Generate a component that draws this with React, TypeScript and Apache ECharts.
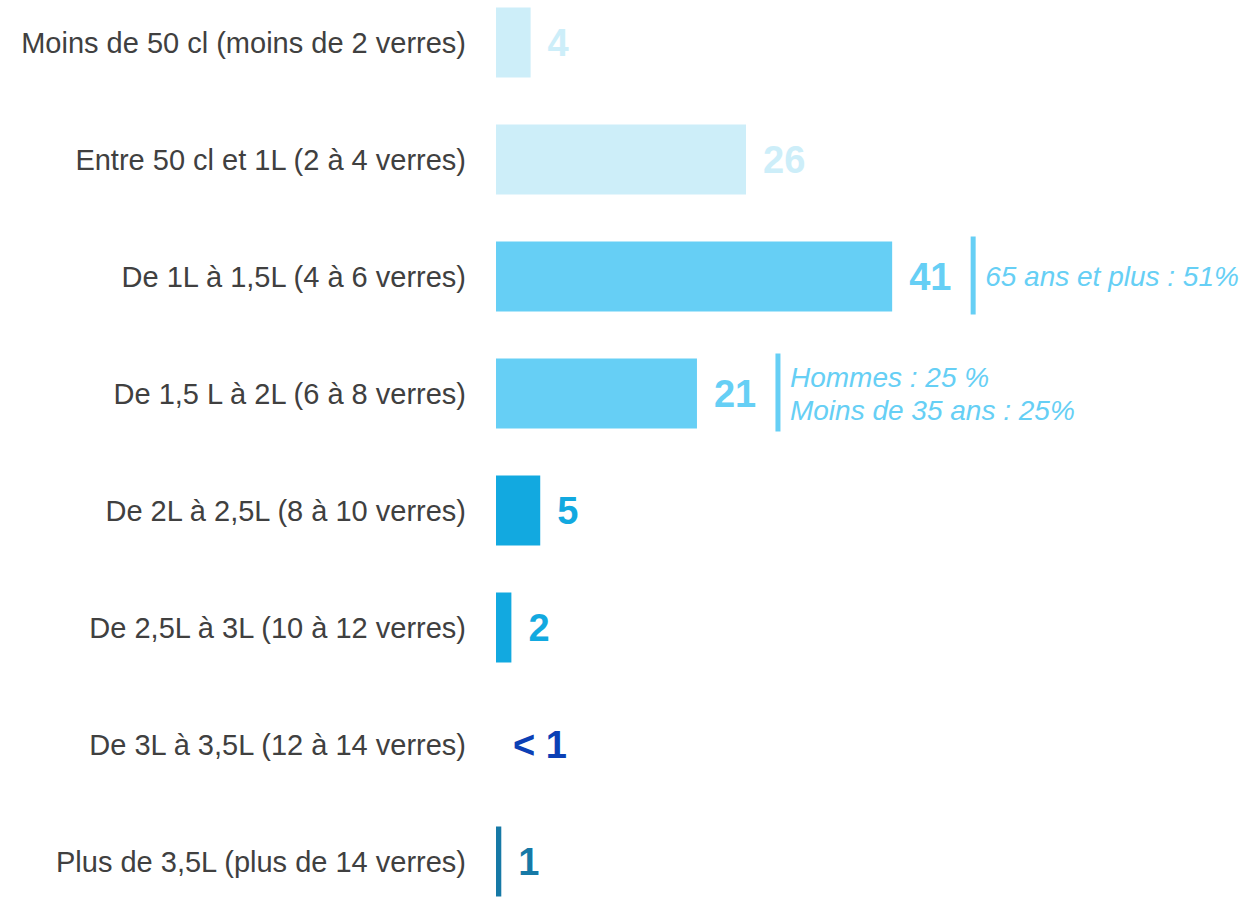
import React, { useEffect, useRef } from "react";
import * as echarts from "echarts";

const categories = [
  "Moins de 50 cl (moins de 2 verres)",
  "Entre 50 cl et 1L (2 à 4 verres)",
  "De 1L à 1,5L (4 à 6 verres)",
  "De 1,5 L à 2L (6 à 8 verres)",
  "De 2L à 2,5L (8 à 10 verres)",
  "De 2,5L à 3L (10 à 12 verres)",
  "De 3L à 3,5L (12 à 14 verres)",
  "Plus de 3,5L (plus de 14 verres)",
];
const values = [3.6, 26, 41.2, 20.9, 4.6, 1.6, 0, 0.55];
const valueLabels = ["4", "26", "41", "21", "5", "2", "< 1", "1"];
const barColors = ["#CDEEF9", "#CDEEF9", "#66CFF5", "#66CFF5", "#12A9E0", "#12A9E0", "#0B40B5", "#1679A6"];
const annotations = [
  { index: 2, lines: ["65 ans et plus : 51%"] },
  { index: 3, lines: ["Hommes : 25 %", "Moins de 35 ans : 25%"] },
];
const annotationColor = "#66CFF5";
const FONT = "Arial, 'Liberation Sans', Helvetica, sans-serif";

export default function App() {
  const ref = useRef<HTMLDivElement>(null);
  useEffect(() => {
    if (!ref.current) return;
    const chart = echarts.init(ref.current, null, { renderer: "svg" });
    chart.setOption({
      animation: false,
      backgroundColor: "#ffffff",
      grid: { left: 496, right: 1, top: 0, bottom: 0, containLabel: false },
      xAxis: {
        type: "value",
        min: 0,
        max: 78,
        show: false,
      },
      yAxis: {
        type: "category",
        inverse: true,
        data: categories,
        axisLine: { show: false },
        axisTick: { show: false },
        splitLine: { show: false },
        axisLabel: {
          margin: 30,
          fontSize: 29,
          color: "#404040",
          fontFamily: FONT,
        },
      },
      series: [
        {
          type: "bar",
          barWidth: 70,
          data: values.map((v, i) => ({
            value: v,
            itemStyle: { color: barColors[i] },
            label: {
              show: true,
              position: "right",
              distance: 17,
              formatter: valueLabels[i],
              color: barColors[i],
              fontSize: 38,
              fontWeight: "bold",
              fontFamily: FONT,
            },
          })),
        },
      ],
    });

    const graphics: any[] = [];
    annotations.forEach((a) => {
      const p = chart.convertToPixel({ gridIndex: 0 }, [values[a.index], a.index]) as number[];
      const lineX = p[0] + 81;
      const cy = p[1];
      graphics.push({
        type: "rect",
        shape: { x: lineX - 2.5, y: cy - 40, width: 5, height: 78 },
        style: { fill: annotationColor },
        silent: true,
      });
      graphics.push({
        type: "text",
        x: lineX + 12,
        y: cy,
        style: {
          text: a.lines.join("\n"),
          fill: annotationColor,
          fontSize: 28,
          fontStyle: "italic",
          fontFamily: FONT,
          lineHeight: 33,
          verticalAlign: "middle",
          align: "left",
        },
        silent: true,
      });
    });
    chart.setOption({ graphic: graphics });

    return () => chart.dispose();
  }, []);
  return (
    <div
      ref={ref}
      style={{ position: "fixed", left: 0, top: -16, width: 1247, height: 936, background: "#fff" }}
    />
  );
}
